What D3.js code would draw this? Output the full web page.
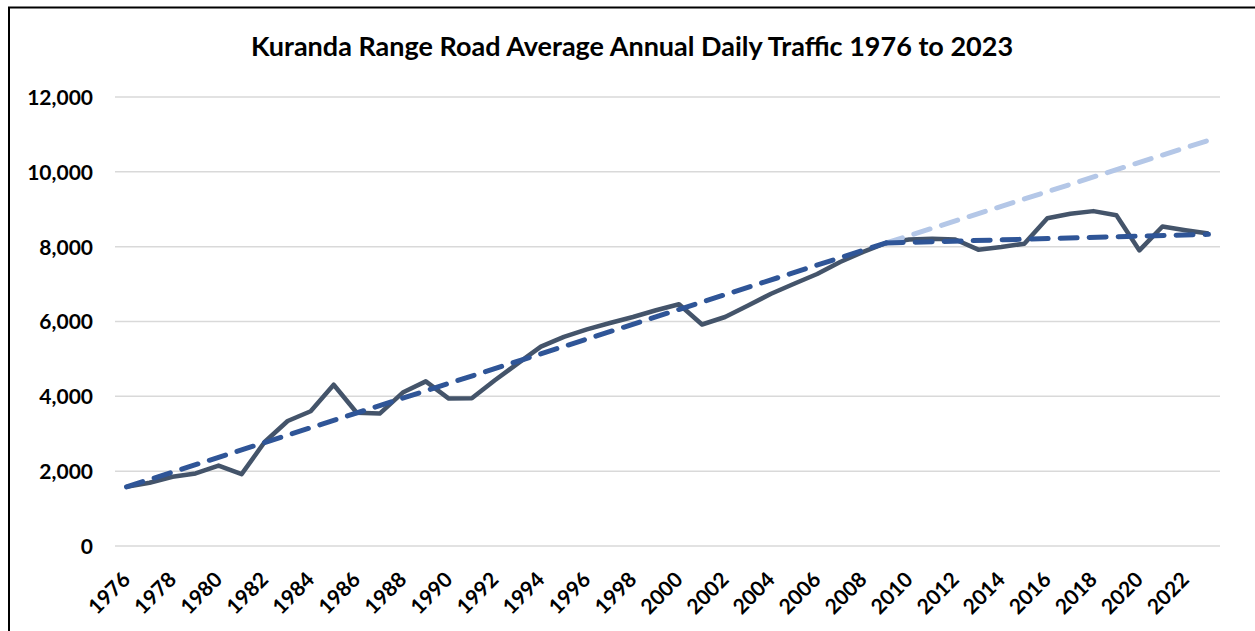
<!DOCTYPE html>
<html>
<head>
<meta charset="utf-8">
<script src="https://cdn.jsdelivr.net/npm/d3@7"></script>
<style>
  body { margin: 0; background: #fff; }
  svg { display: block; font-family: Lato, "Open Sans", sans-serif; }
</style>
</head>
<body>
<div id="chart"></div>
<script>
// yearly average annual daily traffic
var years = d3.range(1976, 2024);
var traffic = [
  1580, 1690, 1850, 1940, 2150, 1920, 2780, 3340, 3600, 4310,
  3560, 3540, 4100, 4400, 3940, 3950, 4430, 4880, 5330, 5590,
  5790, 5960, 6120, 6300, 6460, 5920, 6120, 6430, 6740, 7010,
  7270, 7590, 7860, 8100, 8190, 8210, 8190, 7920, 7990, 8080,
  8760, 8880, 8950, 8840, 7900, 8540, 8440, 8350
];

// trend lines: [year, value] end points
var trendEarly = [[1976, 1580], [2009, 8100]];
var trendLate = [[2009, 8100], [2023, 8330]];
var trendProjected = [[2009, 8100], [2023, 10840]];

var yTicks = [0, 2000, 4000, 6000, 8000, 10000, 12000];
var xTickYears = d3.range(1976, 2024, 2);

var chartTitle = 'Kuranda Range Road Average Annual Daily Traffic 1976 to 2023';

var width = 1255, height = 631;
var margin = {left: 115, right: 35, top: 97, bottom: 85};

var svg = d3.select('#chart').append('svg')
  .attr('width', width)
  .attr('height', height);

// chart frame
svg.append('rect')
  .attr('x', 9)
  .attr('y', 7.5)
  .attr('width', width + 20)
  .attr('height', height + 20)
  .attr('fill', 'none')
  .attr('stroke', '#000')
  .attr('stroke-width', 2);

var x = d3.scaleBand()
  .domain(years)
  .range([margin.left, width - margin.right]);

var xc = function(yr) { return x(yr) + x.bandwidth() / 2; };

var y = d3.scaleLinear()
  .domain([0, 12000])
  .range([height - margin.bottom, margin.top]);

svg.append('text')
  .attr('x', 632)
  .attr('y', 56)
  .attr('text-anchor', 'middle')
  .attr('style', 'font-size:27px; font-weight:bold; fill:#000')
  .text(chartTitle);

// gridlines
svg.append('g')
  .selectAll('line')
  .data(yTicks)
  .enter().append('line')
  .attr('x1', margin.left)
  .attr('x2', width - margin.right)
  .attr('y1', function(d) { return y(d); })
  .attr('y2', function(d) { return y(d); })
  .attr('stroke', '#d9d9d9')
  .attr('stroke-width', 1.5);

var yAxis = svg.append('g')
  .attr('transform', 'translate(' + (margin.left - 22) + ',0)')
  .call(d3.axisLeft(y).tickValues(yTicks).tickSize(0).tickFormat(d3.format(',')));
yAxis.select('.domain').remove();
yAxis.selectAll('text')
  .attr('x', 0)
  .attr('dy', '0.35em')
  .attr('style', 'font-size:21px; font-weight:bold; fill:#000; font-family:Lato, sans-serif');

var xAxis = svg.append('g')
  .attr('transform', 'translate(0,' + (height - margin.bottom) + ')')
  .call(d3.axisBottom(x).tickValues(xTickYears).tickSize(0));
xAxis.select('.domain').remove();
xAxis.selectAll('text')
  .attr('text-anchor', 'end')
  .attr('dy', null)
  .attr('y', null)
  .attr('transform', 'translate(5,35) rotate(-45)')
  .attr('style', 'font-size:21px; font-weight:bold; fill:#000; font-family:Lato, sans-serif');

var line = d3.line()
  .x(function(d) { return xc(d[0]); })
  .y(function(d) { return y(d[1]); });

svg.append('path')
  .datum(years.map(function(yr, i) { return [yr, traffic[i]]; }))
  .attr('d', line)
  .attr('fill', 'none')
  .attr('stroke', '#44546a')
  .attr('stroke-width', 4.5)
  .attr('stroke-linejoin', 'round');

function dashed(data, colour) {
  svg.append('path')
    .datum(data)
    .attr('d', line)
    .attr('fill', 'none')
    .attr('stroke', colour)
    .attr('stroke-width', 5)
    .attr('stroke-linecap', 'round')
    .attr('stroke-dasharray', '17,12');
}

dashed(trendProjected, '#b4c7e7');
dashed(trendEarly, '#2f5597');
dashed(trendLate, '#2f5597');
</script>
</body>
</html>
